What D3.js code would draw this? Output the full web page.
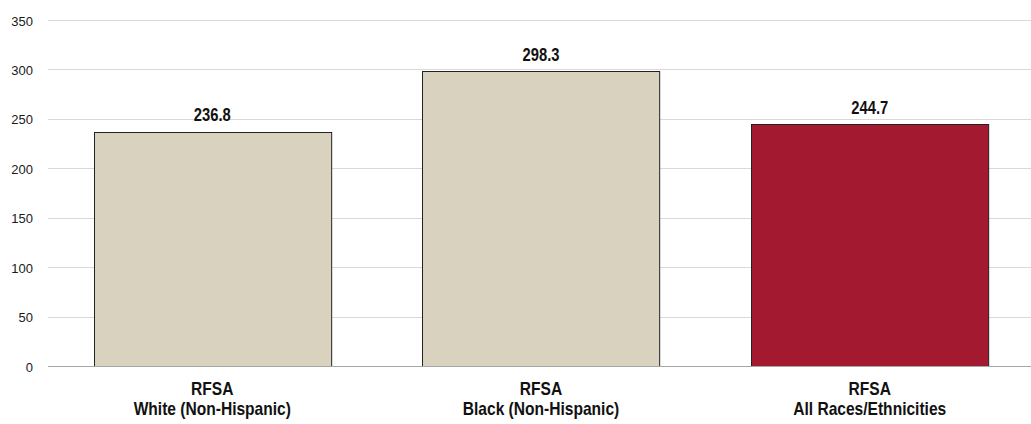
<!DOCTYPE html>
<html>
<head>
<meta charset="utf-8">
<script src="https://cdn.jsdelivr.net/npm/d3@7"></script>
<style>
  html, body { margin: 0; padding: 0; background: #fff; }
  svg { display: block; }
</style>
</head>
<body>
<svg id="chart" width="1031" height="424"></svg>
<script>
const categoriesLine1 = ["RFSA", "RFSA", "RFSA"];
const categoriesLine2 = ["White (Non-Hispanic)", "Black (Non-Hispanic)", "All Races/Ethnicities"];
const values = [236.8, 298.3, 244.7];
const highlight = [false, false, true];
const yTicks = [0, 50, 100, 150, 200, 250, 300, 350];

const svg = d3.select("#chart");
const W = 1031, H = 424;
const x = d3.scaleBand().domain(d3.range(values.length)).range([48, 1034]).paddingInner(0.2785).paddingOuter(0.139);
const y = d3.scaleLinear().domain([0, 350]).range([366, 20]);

const FONT = "'Liberation Sans', Arial, sans-serif";
const NARROW = 0.82;
const CAT_NARROW = 0.89;

// gridlines
svg.append("g").selectAll("line").data(yTicks.filter(d => d > 0)).join("line")
  .attr("x1", 48).attr("x2", W)
  .attr("y1", d => Math.round(y(d)) + 0.5).attr("y2", d => Math.round(y(d)) + 0.5)
  .attr("stroke", "#d9d9d9").attr("stroke-width", 1);

// y tick labels
svg.append("g").selectAll("text").data(yTicks).join("text")
  .attr("x", 33).attr("y", d => y(d) + 5.5)
  .attr("text-anchor", "end")
  .attr("font-family", FONT).attr("font-size", 13)
  .attr("fill", "#1a1a1a")
  .text(d => d);

// bars
svg.append("g").selectAll("rect").data(values).join("rect")
  .attr("x", (d, i) => Math.round(x(i)) + 0.5)
  .attr("y", d => Math.round(y(d)) + 0.5)
  .attr("width", x.bandwidth())
  .attr("height", d => y(0) - Math.round(y(d)))
  .attr("fill", (d, i) => highlight[i] ? "#a31a30" : "#d8d2bf")
  .attr("stroke", "#222").attr("stroke-width", 1);

// baseline
svg.append("line")
  .attr("x1", 48).attr("x2", W)
  .attr("y1", y(0) + 0.5).attr("y2", y(0) + 0.5)
  .attr("stroke", "#a6a6a6").attr("stroke-width", 1.2);

// value labels
svg.append("g").selectAll("g").data(values).join("g")
  .attr("transform", (d, i) => `translate(${x(i) + x.bandwidth() / 2},${y(d) - 10.5}) scale(${NARROW},1)`)
  .append("text")
  .attr("text-anchor", "middle")
  .attr("font-family", FONT).attr("font-size", 18).attr("font-weight", "bold")
  .attr("fill", "#111")
  .text(d => d.toFixed(1));

// category labels
const cat = svg.append("g").selectAll("g").data(values).join("g");
cat.append("g")
  .attr("transform", (d, i) => `translate(${x(i) + x.bandwidth() / 2},395) scale(${CAT_NARROW},1)`)
  .append("text")
  .attr("text-anchor", "middle")
  .attr("font-family", FONT).attr("font-size", 17.5).attr("font-weight", "bold")
  .attr("fill", "#111")
  .text((d, i) => categoriesLine1[i]);
cat.append("g")
  .attr("transform", (d, i) => `translate(${x(i) + x.bandwidth() / 2},415) scale(${CAT_NARROW},1)`)
  .append("text")
  .attr("text-anchor", "middle")
  .attr("font-family", FONT).attr("font-size", 17.5).attr("font-weight", "bold")
  .attr("fill", "#111")
  .text((d, i) => categoriesLine2[i]);
</script>
</body>
</html>
